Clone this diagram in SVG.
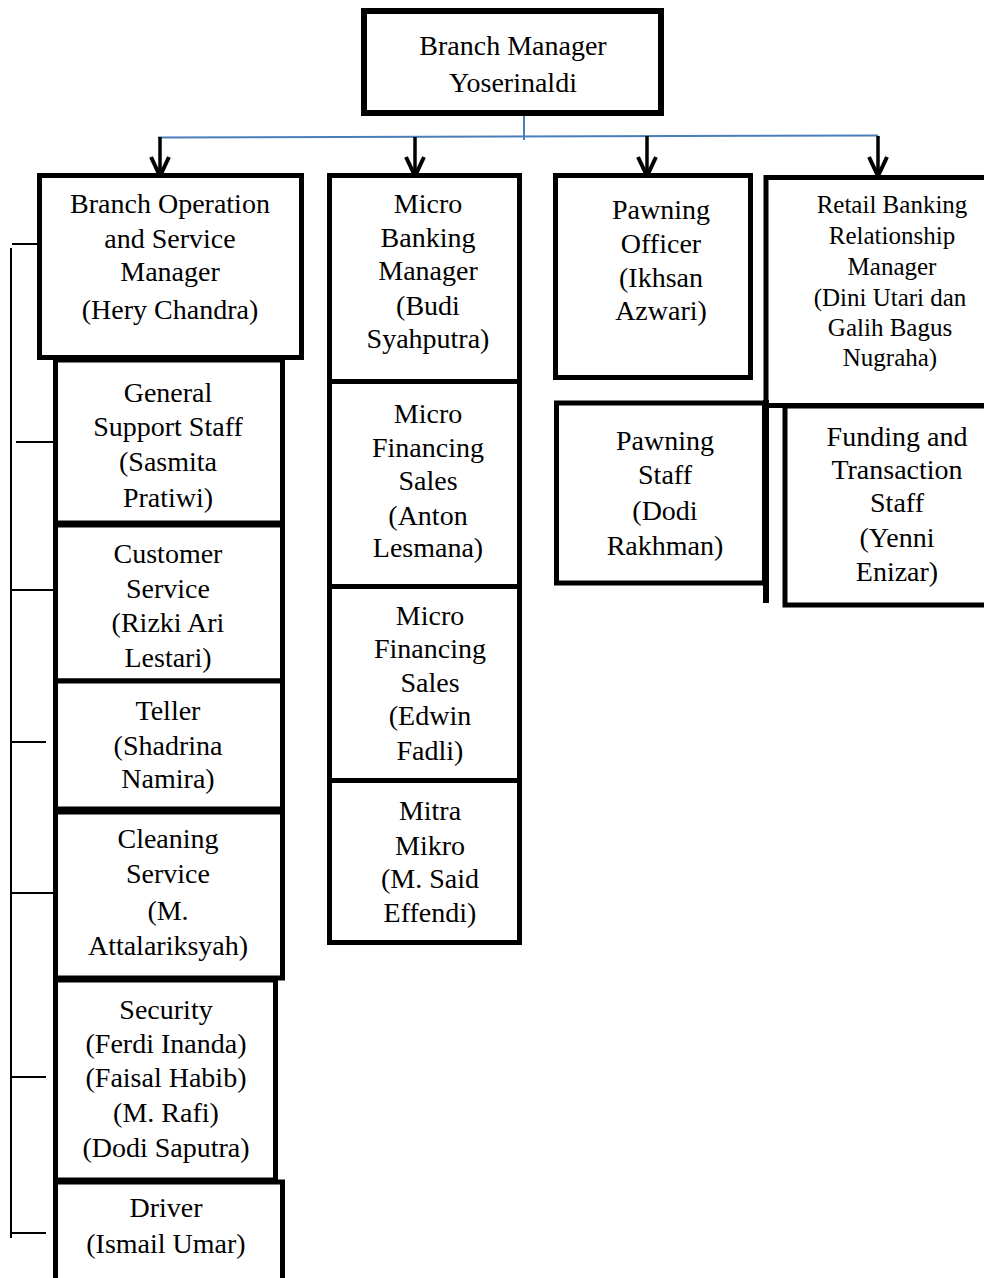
<svg xmlns="http://www.w3.org/2000/svg" width="984" height="1278" viewBox="0 0 984 1278">
<style>
.box{fill:#fff;stroke:#000;stroke-width:5}
.t{font-family:"Liberation Serif","Times New Roman",serif;font-size:28px;fill:#000;text-anchor:middle}
.s{font-family:"Liberation Serif","Times New Roman",serif;font-size:25px;fill:#000;text-anchor:middle}
.br{stroke:#000;stroke-width:2;fill:none}
.blue{stroke:#4a7ebb;stroke-width:2;fill:none}
.arr{stroke:#000;stroke-width:3.5;fill:none}
.head{stroke:#000;stroke-width:4;fill:none;stroke-linejoin:miter}
</style>
<rect width="984" height="1278" fill="#fff"/>
<g id="connectors">
<line class="blue" x1="524" y1="107" x2="524" y2="140"/>
<line class="blue" x1="158" y1="137.5" x2="878" y2="135.5"/>
<line class="arr" x1="160" y1="137" x2="160" y2="176"/>
<polyline class="head" points="151,157 160,176 169,157"/>
<line class="arr" x1="415" y1="137" x2="415" y2="176"/>
<polyline class="head" points="406,157 415,176 424,157"/>
<line class="arr" x1="647" y1="136" x2="647" y2="176"/>
<polyline class="head" points="638,157 647,176 656,157"/>
<line class="arr" x1="878" y1="136" x2="878" y2="176"/>
<polyline class="head" points="869,157 878,176 887,157"/>
<line class="br" x1="11" y1="248" x2="11" y2="1238"/>
<line class="br" x1="12" y1="244" x2="38" y2="244"/>
<line class="br" x1="16" y1="442" x2="53" y2="442"/>
<line class="br" x1="12" y1="590" x2="53" y2="590"/>
<line class="br" x1="10" y1="742" x2="46" y2="742"/>
<line class="br" x1="12" y1="893" x2="53" y2="893"/>
<line class="br" x1="12" y1="1077" x2="46" y2="1077"/>
<line class="br" x1="10" y1="1233" x2="46" y2="1233"/>
</g>
<g id="branch-manager">
<rect x="364" y="11" width="297" height="102" fill="#fff" stroke="#000" stroke-width="6"/>
<text class="t" x="513" y="55">Branch Manager</text>
<text class="t" x="513" y="92">Yoserinaldi</text>
</g>
<g id="general-support">
<rect class="box" x="55.5" y="360" width="227" height="163"/>
<text class="t" x="168" y="402">General</text>
<text class="t" x="168" y="436">Support Staff</text>
<text class="t" x="168" y="471">(Sasmita</text>
<text class="t" x="168" y="507">Pratiwi)</text>
</g>
<g id="customer-service">
<rect class="box" x="55.5" y="525" width="227" height="156"/>
<text class="t" x="168" y="563">Customer</text>
<text class="t" x="168" y="598">Service</text>
<text class="t" x="168" y="632">(Rizki Ari</text>
<text class="t" x="168" y="667">Lestari)</text>
</g>
<g id="teller">
<rect class="box" x="55.5" y="681" width="227" height="128"/>
<text class="t" x="168" y="720">Teller</text>
<text class="t" x="168" y="755">(Shadrina</text>
<text class="t" x="168" y="788">Namira)</text>
</g>
<g id="cleaning-service">
<rect class="box" x="55.5" y="812" width="227" height="166" stroke-width="6"/>
<text class="t" x="168" y="848">Cleaning</text>
<text class="t" x="168" y="883">Service</text>
<text class="t" x="168" y="920">(M.</text>
<text class="t" x="168" y="955">Attalariksyah)</text>
</g>
<g id="security">
<rect class="box" x="55.5" y="980" width="220" height="200"/>
<text class="t" x="166" y="1019">Security</text>
<text class="t" x="166" y="1053">(Ferdi Inanda)</text>
<text class="t" x="166" y="1087">(Faisal Habib)</text>
<text class="t" x="166" y="1122">(M. Rafi)</text>
<text class="t" x="166" y="1157">(Dodi Saputra)</text>
</g>
<g id="driver">
<rect class="box" x="55.5" y="1182" width="227" height="110"/>
<text class="t" x="166" y="1217">Driver</text>
<text class="t" x="166" y="1253">(Ismail Umar)</text>
</g>
<g id="branch-operation">
<rect class="box" x="39.5" y="175.5" width="262" height="182"/>
<text class="t" x="170" y="213">Branch Operation</text>
<text class="t" x="170" y="248">and Service</text>
<text class="t" x="170" y="281">Manager</text>
<text class="t" x="170" y="319">(Hery Chandra)</text>
</g>
<g id="micro-banking">
<rect class="box" x="329.5" y="175.5" width="190" height="206"/>
<text class="t" x="428" y="213">Micro</text>
<text class="t" x="428" y="247">Banking</text>
<text class="t" x="428" y="280">Manager</text>
<text class="t" x="428" y="315">(Budi</text>
<text class="t" x="428" y="348">Syahputra)</text>
</g>
<g id="micro-financing-anton">
<rect class="box" x="329.5" y="381.5" width="190" height="205"/>
<text class="t" x="428" y="423">Micro</text>
<text class="t" x="428" y="457">Financing</text>
<text class="t" x="428" y="490">Sales</text>
<text class="t" x="428" y="525">(Anton</text>
<text class="t" x="428" y="557">Lesmana)</text>
</g>
<g id="micro-financing-edwin">
<rect class="box" x="329.5" y="586.5" width="190" height="194"/>
<text class="t" x="430" y="625">Micro</text>
<text class="t" x="430" y="658">Financing</text>
<text class="t" x="430" y="692">Sales</text>
<text class="t" x="430" y="725">(Edwin</text>
<text class="t" x="430" y="760">Fadli)</text>
</g>
<g id="mitra-mikro">
<rect class="box" x="329.5" y="780.5" width="190" height="162"/>
<text class="t" x="430" y="820">Mitra</text>
<text class="t" x="430" y="855">Mikro</text>
<text class="t" x="430" y="888">(M. Said</text>
<text class="t" x="430" y="922">Effendi)</text>
</g>
<g id="pawning-officer">
<rect class="box" x="555.5" y="175.5" width="195" height="202"/>
<text class="t" x="661" y="219">Pawning</text>
<text class="t" x="661" y="253">Officer</text>
<text class="t" x="661" y="287">(Ikhsan</text>
<text class="t" x="661" y="320">Azwari)</text>
</g>
<g id="retail-banking">
<rect class="box" x="766" y="177.5" width="230" height="228" stroke-width="6"/>
<text class="s" x="892" y="213">Retail Banking</text>
<text class="s" x="892" y="244">Relationship</text>
<text class="s" x="892" y="275">Manager</text>
<text class="s" x="890" y="306">(Dini Utari dan</text>
<text class="s" x="890" y="336">Galih Bagus</text>
<text class="s" x="890" y="366">Nugraha)</text>
</g>
<g id="pawning-staff">
<rect class="box" x="556.5" y="403" width="208" height="180" stroke-width="6"/>
<line x1="766" y1="400" x2="766" y2="603" stroke="#000" stroke-width="6"/>
<text class="t" x="665" y="450">Pawning</text>
<text class="t" x="665" y="484">Staff</text>
<text class="t" x="665" y="520">(Dodi</text>
<text class="t" x="665" y="555">Rakhman)</text>
</g>
<g id="funding-transaction">
<rect class="box" x="785" y="406" width="210" height="199" stroke-width="6"/>
<text class="t" x="897" y="446">Funding and</text>
<text class="t" x="897" y="479">Transaction</text>
<text class="t" x="897" y="512">Staff</text>
<text class="t" x="897" y="547">(Yenni</text>
<text class="t" x="897" y="581">Enizar)</text>
</g>
</svg>
